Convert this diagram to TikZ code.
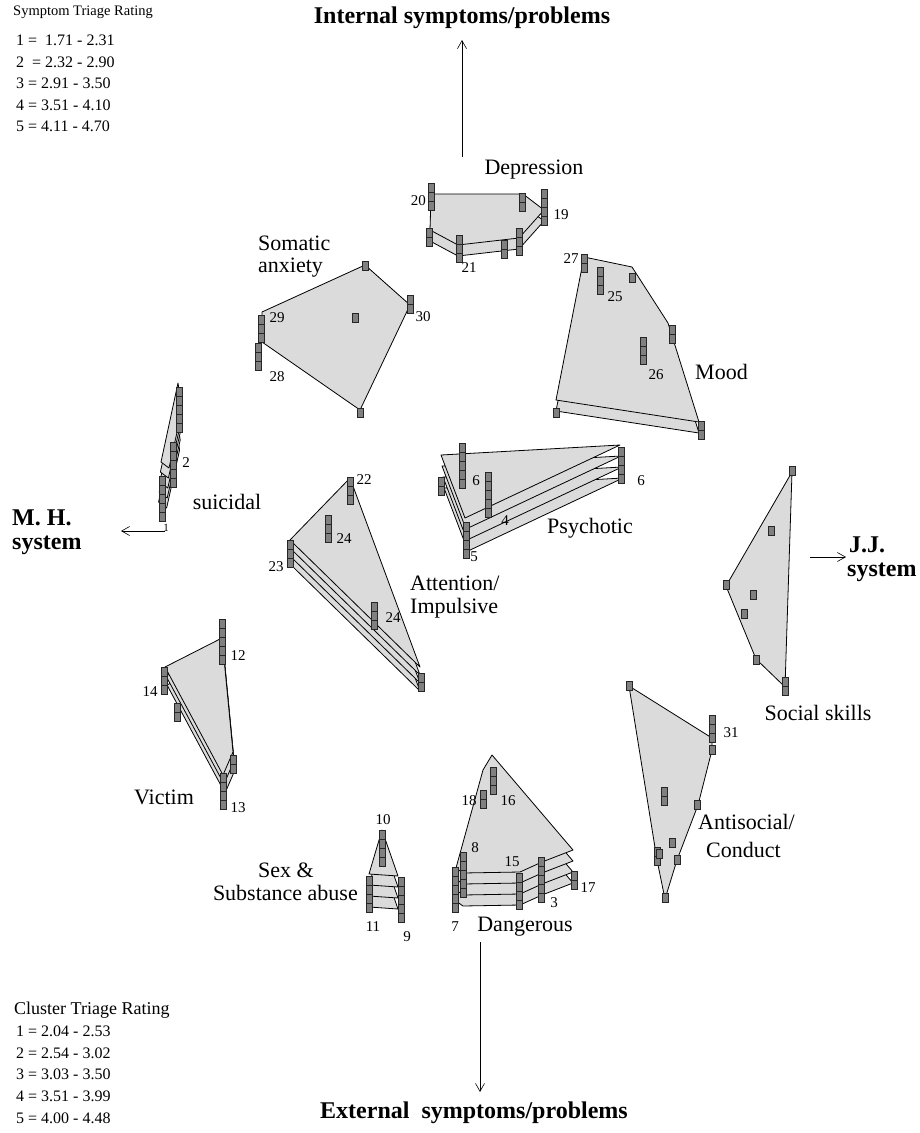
\documentclass[tikz,border=0pt]{standalone}
\usepackage{fontspec}
\setmainfont{Liberation Serif}
\usetikzlibrary{arrows.meta}
\newcommand\bstack[3]{\foreach \i in {1,...,#3}{\draw[barbox] ({#1-3},{#2+(\i-1)*9}) rectangle ++(6,9);}}
\newcommand\layers[4]{\foreach \k in {#1,...,0}{\filldraw[poly,shift={({\k*#2},{\k*#3})}] #4;}}
\tikzset{
 poly/.style={fill=black!14, draw=black, line width=0.8pt, line join=round},
 barbox/.style={fill=black!50, draw=black!85, line width=0.6pt},
 lab/.style={font=\fontsize{22}{24}\selectfont, inner sep=0pt},
 num/.style={font=\fontsize{15}{17}\selectfont, inner sep=0pt},
 ttl/.style={font=\fontsize{24}{26}\selectfont\bfseries, inner sep=0pt},
 legA/.style={font=\fontsize{16}{18}\selectfont, inner sep=0pt, anchor=west},
 legB/.style={font=\fontsize{16}{18}\selectfont, inner sep=0pt, anchor=west},
 arr/.style={-{Straight Barb[length=8pt,width=9pt]}, line width=0.6pt}
}
\begin{document}
\begin{tikzpicture}[x=1pt,y=-1pt]
\useasboundingbox[fill=white] (0,0) rectangle (919,1133);
% ---------- legends
\node[legA,font=\fontsize{14.5}{16}\selectfont] (lt) at (13,12) {Symptom Triage Rating};
\node[legA] (l1) at (16,40) {1 =\ \ 1.71 - 2.31};
\node[legA] (l2) at (16,62) {2\ \ = 2.32 - 2.90};
\node[legA] (l3) at (16,83) {3 = 2.91 - 3.50};
\node[legA] (l4) at (16,105) {4 = 3.51 - 4.10};
\node[legA] (l5) at (16,126) {5 = 4.11 - 4.70};
\node[legB,font=\fontsize{18}{20}\selectfont] (ct) at (14,1010) {Cluster Triage Rating};
\node[legB] (c1) at (16,1031) {1 = 2.04 - 2.53};
\node[legB] (c2) at (16,1053) {2 = 2.54 - 3.02};
\node[legB] (c3) at (16,1074) {3 = 3.03 - 3.50};
\node[legB] (c4) at (16,1096) {4 = 3.51 - 3.99};
\node[legB] (c5) at (16,1118) {5 = 4.00 - 4.48};
% ---------- axes
\node[ttl] (int) at (462,18) {Internal symptoms/problems};
\node[ttl] (ext) at (474,1113) {External\ \ symptoms/problems};
\node[ttl,anchor=west] (mh1) at (12,518) {M. H.};
\node[ttl,anchor=west] (mh2) at (12,545) {system};
\node[ttl,anchor=west] (jj1) at (849,545) {J.J.};
\node[ttl,anchor=west] (jj2) at (847,572) {system};
\coordinate (aT0) at (462,157); \coordinate (aT1) at (462,40);
\coordinate (aB0) at (480,942); \coordinate (aB1) at (480,1092);
\coordinate (aL0) at (165,531); \coordinate (aL1) at (121,531);
\coordinate (aR0) at (810,557); \coordinate (aR1) at (846,557);
\draw[arr] (aT0) -- (aT1);
\draw[arr] (aB0) -- (aB1);
\draw[arr] (aL0) -- (aL1);
\draw[arr] (aR0) -- (aR1);
% ---------- Depression
\layers{1}{0}{11}{(431,194) -- (523,194) -- (544,210) -- (519,238) -- (458,245) -- (430,230) -- cycle}
\bstack{431}{183}{3}\bstack{429}{228}{2}\bstack{522}{193}{2}\bstack{544}{189}{4}
\bstack{459}{235}{3}\bstack{504}{240}{2}\bstack{519}{228}{3}
\node[lab] (dep) at (534,170) {Depression};
\node[num,anchor=east] (n20) at (426,201) {20};
\node[num] (n19) at (561,215) {19};
\node[num] (n21) at (469,268) {21};
% ---------- Somatic anxiety
\layers{0}{0}{0}{(365,265) -- (410,305) -- (360,410) -- (262,342) -- (262,312) -- cycle}
\bstack{365}{261}{1}\bstack{410}{295}{2}\bstack{355}{313}{1}\bstack{261}{315}{3}
\bstack{258}{343}{3}\bstack{360}{408}{1}
\node[lab,anchor=west] (som1) at (258,243) {Somatic};
\node[lab,anchor=west] (som2) at (258,268) {anxiety};
\node[num] (n29) at (277,318) {29};
\node[num] (n30) at (423,317) {30};
\node[num] (n28) at (277,377) {28};
% ---------- Mood
\layers{1}{0}{11}{(584,257) -- (632,267) -- (668,323) -- (699,422) -- (556,400) -- cycle}
\bstack{584}{254}{2}\bstack{600}{267}{3}\bstack{632}{273}{1}\bstack{672}{325}{2}
\bstack{643}{337}{3}\bstack{556}{408}{1}\bstack{701}{421}{2}
\node[num] (n27) at (571,259) {27};
\node[num] (n25) at (615,297) {25};
\node[num] (n26) at (656,375) {26};
\node[lab,anchor=west] (mood) at (695,372) {Mood};
% ---------- suicidal
\layers{4}{-0.6}{10}{(178,383) -- (182,410) -- (169,468) -- (161,462) -- cycle}
\bstack{179}{387}{5}\bstack{173}{442}{5}\bstack{162}{476}{5}
\node[num] (n2) at (186,463) {2};
\node[num,font=\fontsize{11}{12}\selectfont] (n1) at (166,528) {1};
\node[lab] (sui) at (227,502) {suicidal};
% ---------- Psychotic
\layers{3}{1}{11}{(441,455) -- (620,445) -- (465,518) -- cycle}
\bstack{462}{443}{5}\bstack{488}{472}{5}\bstack{441}{477}{2}\bstack{466}{522}{4}\bstack{621}{447}{4}
\node[num] (n6a) at (476,481) {6};
\node[num] (n4) at (505,521) {4};
\node[num] (n5) at (474,557) {5};
\node[num] (n6b) at (641,481) {6};
\node[lab] (psy) at (590,528) {Psychotic};
% ---------- Attention / Impulsive
\layers{3}{0}{8}{(350,478) -- (420,667) -- (290,540) -- cycle}
\bstack{350}{477}{3}\bstack{328}{515}{3}\bstack{290}{540}{3}\bstack{374}{602}{3}\bstack{421}{673}{2}
\node[num] (n22) at (364,480) {22};
\node[num] (n24a) at (344,539) {24};
\node[num] (n23) at (276,567) {23};
\node[num] (n24b) at (393,618) {24};
\node[lab,anchor=west] (att1) at (410,583) {Attention/};
\node[lab,anchor=west] (att2) at (410,608) {Impulsive};
% ---------- Social skills
\layers{0}{0}{0}{(792,472) -- (785,687) -- (756,659) -- (726,586) -- cycle}
\bstack{792}{466}{1}\bstack{771}{526}{1}\bstack{726}{580}{1}\bstack{753}{590}{1}
\bstack{744}{609}{1}\bstack{756}{655}{1}\bstack{785}{677}{2}
\node[lab] (soc) at (818,713) {Social skills};
% ---------- Victim
\layers{2}{1}{9}{(222,638) -- (233,752) -- (223,775) -- (165,667) -- cycle}
\bstack{222}{619}{5}\bstack{164}{667}{3}\bstack{177}{703}{2}\bstack{233}{755}{2}\bstack{223}{773}{4}
\node[num] (n12) at (238,656) {12};
\node[num] (n14) at (150,692) {14};
\node[num] (n13) at (238,808) {13};
\node[lab] (vic) at (164,797) {Victim};
% ---------- Sex & Substance abuse
\layers{3}{0}{11}{(382,830) -- (398,876) -- (369,874) -- cycle}
\bstack{382}{830}{4}\bstack{369}{876}{4}\bstack{401}{877}{5}
\node[num] (n10) at (383,820) {10};
\node[num] (n11) at (373,927) {11};
\node[num] (n9) at (407,937) {9};
\node[lab,anchor=west] (sex1) at (258,870) {Sex \&};
\node[lab,anchor=east] (sex2) at (358,893) {Substance abuse};
% ---------- Dangerous
\layers{3}{0}{11}{(492,755) -- (573,850) -- (542,862) -- (520,872) -- (463,873) -- (456,868) -- (483,770) -- cycle}
\bstack{493}{767}{3}\bstack{483}{790}{2}\bstack{463}{852}{5}\bstack{455}{867}{5}
\bstack{519}{873}{4}\bstack{541}{857}{5}\bstack{574}{871}{2}
\node[num] (n18) at (469,801) {18};
\node[num] (n16) at (508,801) {16};
\node[num] (n8) at (475,848) {8};
\node[num] (n15) at (512,862) {15};
\node[num] (n7) at (455,927) {7};
\node[num] (n3) at (554,903) {3};
\node[num] (n17) at (588,888) {17};
\node[lab] (dan) at (525,927) {Dangerous};
% ---------- Antisocial / Conduct
\layers{0}{0}{0}{(629,686) -- (712,738) -- (712,750) -- (698,805) -- (677,860) -- (665,899) -- (657,860) -- cycle}
\bstack{629}{681}{1}\bstack{712}{715}{3}\bstack{712}{745}{1}\bstack{664}{787}{2}\bstack{697}{800}{1}
\bstack{672}{838}{1}\bstack{657}{847}{2}\bstack{659}{849}{1}\bstack{677}{855}{1}\bstack{665}{893}{1}
\node[num] (n31) at (731,733) {31};
\node[lab,anchor=west] (ant1) at (698,822) {Antisocial/};
\node[lab,anchor=west] (ant2) at (706,850) {Conduct};
\end{tikzpicture}
\end{document}
